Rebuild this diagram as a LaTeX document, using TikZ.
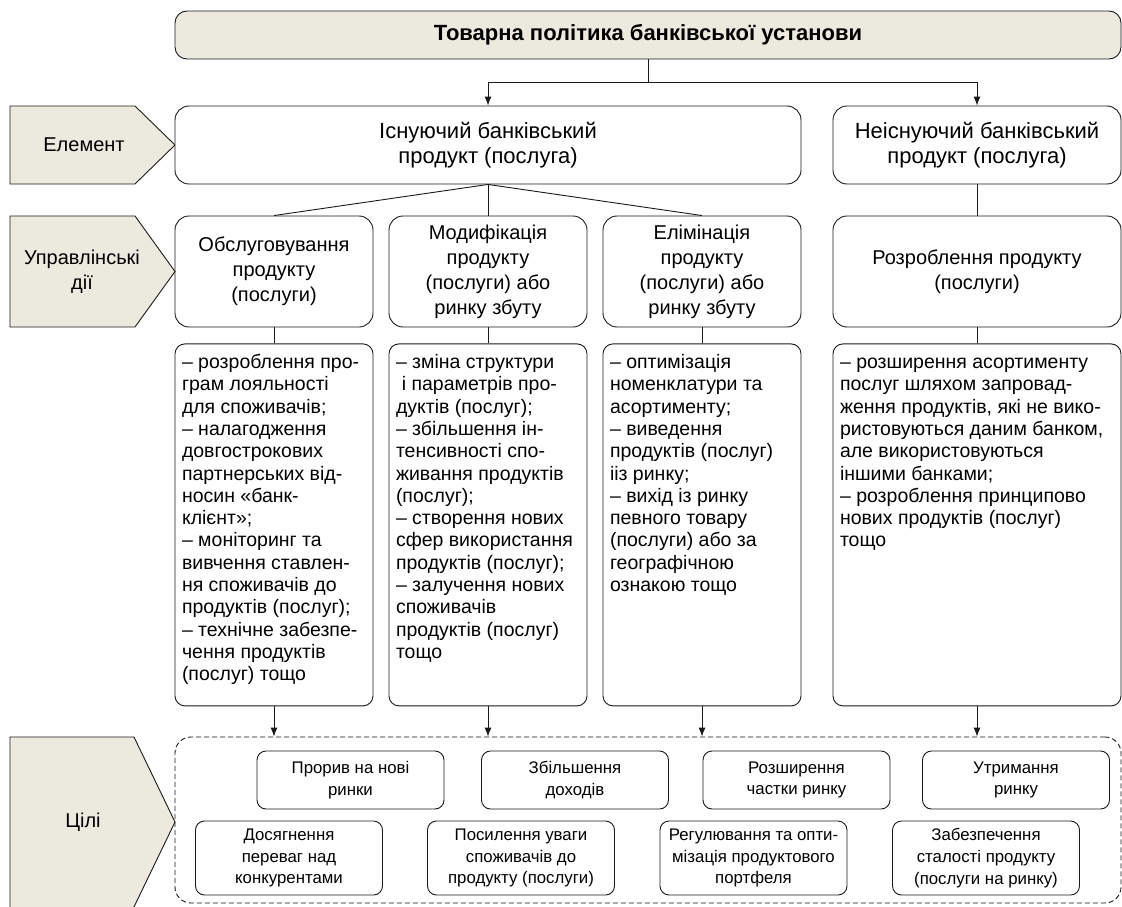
\documentclass[tikz,border=0pt]{standalone}
\usepackage{fontspec}
\setmainfont{Liberation Sans}
\usetikzlibrary{arrows.meta,positioning}
\definecolor{beige}{HTML}{ECEADF}
\definecolor{ink}{HTML}{1A1A1A}
\newcommand{\detaillines}[2]{\parbox[t][344pt][t]{#1}{\begin{tabular}[t]{@{}l@{}}#2\end{tabular}}}

\begin{document}
\begin{tikzpicture}[x=1pt,y=-1pt,node distance=16pt,>={Latex[length=9pt,width=7pt]}]
  \tikzstyle{elem}=[draw=ink,line width=0.9pt,rounded corners=14pt,fill=white,minimum height=78pt,align=center,inner sep=0pt,font=\fontsize{22}{25}\selectfont]
  \tikzstyle{action}=[draw=ink,line width=0.9pt,rounded corners=14pt,minimum height=111pt,align=center,inner sep=0pt,font=\fontsize{20}{25}\selectfont]
  \tikzstyle{detail}=[draw=ink,line width=0.9pt,rounded corners=10pt,inner xsep=7pt,inner ysep=9pt,font=\fontsize{19.5}{22.3}\selectfont]
  \tikzstyle{goal}=[draw=ink,line width=0.9pt,rounded corners=9pt,minimum width=187pt,align=center,inner sep=0pt,font=\fontsize{16.8}{21.7}\selectfont]
  \tikzstyle{tag}=[draw=ink,line width=0.9pt,fill=beige]
  \tikzstyle{link}=[draw=ink,line width=0.9pt]
  \useasboundingbox (0,0) rectangle (1122,907);

  % left-hand tags
  \draw[tag] (10,106) -- (135,106) -- (175,145) -- (135,184) -- (10,184) -- cycle;
  \node[font=\fontsize{20}{25}\selectfont] (tElem) at (84,145) {Елемент};
  \draw[tag] (10,216) -- (135,216) -- (175,271.5) -- (135,327) -- (10,327) -- cycle;
  \node[align=center,font=\fontsize{20}{25}\selectfont] (tAct) at (82,271.5) {Управлінські\\дії};
  \draw[tag] (10,737) -- (134,737) -- (175,822) -- (132.5,910) -- (10,910) -- cycle;
  \node[font=\fontsize{20}{25}\selectfont] (tGoal) at (83,822) {Цілі};

  % top
  \node[draw=ink,line width=0.9pt,fill=beige,rounded corners=12pt,minimum width=946pt,minimum height=48pt,font=\fontsize{22}{26}\selectfont\bfseries] (title) at (648,35) {Товарна політика банківської установи};
  \node[elem,minimum width=626pt] (exist) at (488,145) {Існуючий банківський\\продукт (послуга)};
  \node[elem,minimum width=288pt] (nonex) at (977,145) {Неіснуючий банківський\\продукт (послуга)};

  % actions
  \node[action,minimum width=198pt] (serv) at (274,271.5) {Обслуговування\\продукту\\(послуги)};
  \node[action,minimum width=198pt] (modif) at (488,271.5) {Модифікація\\продукту\\(послуги) або\\ринку збуту};
  \node[action,minimum width=198pt] (elim) at (702,271.5) {Елімінація\\продукту\\(послуги) або\\ринку збуту};
  \node[action,minimum width=288pt] (devel) at (977,271.5) {Розроблення продукту\\(послуги)};

  % details
  \node[detail,below=of serv] (servD) {\detaillines{184pt}{– розроблення про-\\грам лояльності\\для споживачів;\\– налагодження\\довгострокових\\партнерських від-\\носин «банк-\\клієнт»;\\– моніторинг та\\вивчення ставлен-\\ня споживачів до\\продуктів (послуг);\\– технічне забезпе-\\чення продуктів\\(послуг) тощо}};
  \node[detail,below=of modif] (modifD) {\detaillines{184pt}{– зміна структури\\\hspace{0.3em}і параметрів про-\\дуктів (послуг);\\– збільшення ін-\\тенсивності спо-\\живання продуктів\\(послуг);\\– створення нових\\сфер використання\\продуктів (послуг);\\– залучення нових\\споживачів\\продуктів (послуг)\\тощо}};
  \node[detail,below=of elim] (elimD) {\detaillines{184pt}{– оптимізація\\номенклатури та\\асортименту;\\– виведення\\продуктів (послуг)\\ііз ринку;\\– вихід із ринку\\певного товару\\(послуги) або за\\географічною\\ознакою тощо}};
  \node[detail,below=of devel] (develD) {\detaillines{274pt}{– розширення асортименту\\послуг шляхом запровад-\\ження продуктів, які не вико-\\ристовуються даним банком,\\але використовуються\\іншими банками;\\– розроблення принципово\\нових продуктів (послуг)\\тощо}};

  % goals
  \node[draw=ink,line width=0.9pt,dash pattern=on 5pt off 3pt,rounded corners=16pt,minimum width=946pt,minimum height=166pt] (goals) at (648,820) {};
  \node[goal,minimum height=58pt] (g1) at (350.5,780) {Прорив на нові\\ринки};
  \node[goal,minimum height=58pt] (g2) at (575,780) {Збільшення\\доходів};
  \node[goal,minimum height=58pt] (g3) at (796.5,780) {Розширення\\частки ринку};
  \node[goal,minimum height=58pt] (g4) at (1016,780) {Утримання\\ринку};
  \node[goal,minimum height=74pt] (g5) at (289,858) {Досягнення\\переваг над\\конкурентами};
  \node[goal,minimum height=74pt] (g6) at (521,858) {Посилення уваги\\споживачів до\\продукту (послуги)};
  \node[goal,minimum height=74pt] (g7) at (753.5,858) {Регулювання та опти-\\мізація продуктового\\портфеля};
  \node[goal,minimum height=74pt] (g8) at (986,858) {Забезпечення\\сталості продукту\\(послуги на ринку)};

  % connectors
  \draw[link] (title.south) -- ++(0,23) coordinate (fork);
  \draw[link,->] (fork) -| (exist.north);
  \draw[link,->] (fork) -| (nonex.north);
  \draw[link] (exist.south) -- (serv.north);
  \draw[link] (exist.south) -- (modif.north);
  \draw[link] (exist.south) -- (elim.north);
  \draw[link] (nonex.south) -- (devel.north);
  \draw[link] (serv) -- (servD);
  \draw[link] (modif) -- (modifD);
  \draw[link] (elim) -- (elimD);
  \draw[link] (devel) -- (develD);
  \draw[link,->] (servD.south) -- (servD.south |- goals.north);
  \draw[link,->] (modifD.south) -- (modifD.south |- goals.north);
  \draw[link,->] (elimD.south) -- (elimD.south |- goals.north);
  \draw[link,->] (develD.south) -- (develD.south |- goals.north);
\end{tikzpicture}
\end{document}
